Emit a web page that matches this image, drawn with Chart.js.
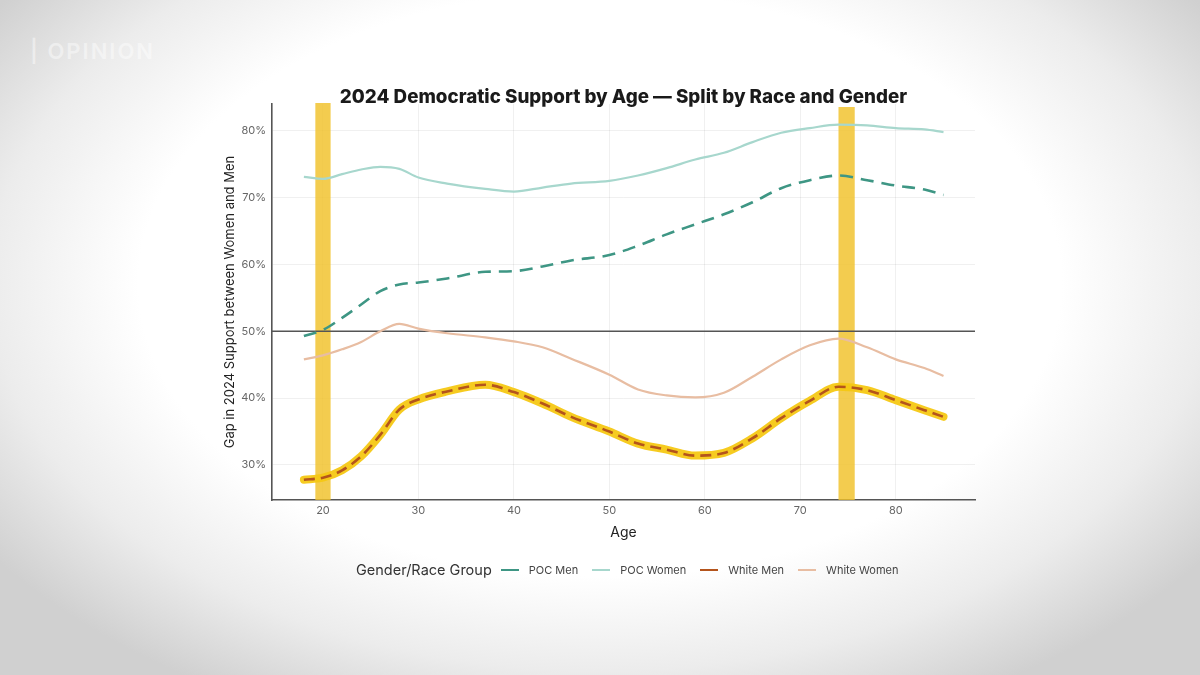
<!DOCTYPE html>
<html>
<head>
<meta charset="utf-8">
<script src="https://cdn.jsdelivr.net/npm/chart.js@4/dist/chart.umd.min.js"></script>
<style>
  html, body { margin: 0; padding: 0; }
  body {
    width: 1200px; height: 675px; overflow: hidden; position: relative;
    font-family: Inter, "Noto Sans", sans-serif;
    background: radial-gradient(ellipse 62% 70% at 50% 42%, #ffffff 62%, #ececec 82%, #d0d0d0 100%);
  }
  #wrap { position: absolute; left: 0; top: 0; width: 1200px; height: 675px; }
  #logo { position: absolute; left: 30px; top: 38px; font-size: 22px; letter-spacing: 2px; color: rgba(255,255,255,0.45); font-weight: 600; }
  #legend { position: absolute; top: 561px; left: 356px; display: flex; align-items: center; white-space: nowrap; }
  #legend .ttl { font-size: 14.5px; color: #333; margin-right: 9px; }
  #legend .item { display: flex; align-items: center; font-size: 11px; color: #444; margin-right: 14px; }
  #legend .sw { width: 18px; height: 0; border-top: 2.5px solid; margin-right: 10px; }
</style>
</head>
<body>
<div id="logo">| OPINION</div>
<div id="wrap"><canvas id="chart" width="1200" height="675"></canvas></div>
<div id="legend"></div>
<script>
const ages = [18, 20, 22, 24, 26, 28, 30, 33, 37, 40, 43, 46, 50, 53, 56, 59, 62, 65, 68, 71, 74, 77, 80, 83, 85];

const pocMen = [49.3, 50.2, 52.0, 54.0, 56.0, 57.0, 57.3, 57.9, 58.9, 59.0, 59.7, 60.6, 61.4, 62.8, 64.5, 66.0, 67.5, 69.3, 71.4, 72.6, 73.3, 72.6, 71.8, 71.2, 70.4];
const pocWomen = [73.1, 72.8, 73.5, 74.2, 74.6, 74.3, 73.0, 72.1, 71.3, 70.9, 71.5, 72.1, 72.5, 73.3, 74.4, 75.7, 76.7, 78.3, 79.7, 80.4, 80.9, 80.8, 80.4, 80.2, 79.8];
const whiteMen = [27.8, 28.1, 29.2, 31.3, 34.5, 38.3, 39.8, 41.0, 42.0, 40.9, 39.2, 37.2, 35.0, 33.2, 32.3, 31.4, 31.8, 34.0, 37.0, 39.6, 41.7, 41.2, 39.7, 38.2, 37.2];
const whiteWomen = [45.8, 46.4, 47.3, 48.4, 50.0, 51.1, 50.4, 49.7, 49.1, 48.5, 47.6, 45.9, 43.5, 41.3, 40.4, 40.1, 40.8, 43.2, 45.8, 47.9, 48.9, 47.6, 45.8, 44.5, 43.3];

// highlighted age bands (yellow bars)
const bandRanges = [[19.2, 20.8], [74.0, 75.7]];
const refLine = 50;

const chartTitle = '2024 Democratic Support by Age \u2014 Split by Race and Gender';
const groupNames = ['POC Men', 'POC Women', 'White Men', 'White Women'];
const groupColors = ['#3e9684', '#a7d7cd', '#b4541c', '#e8bda2'];

const pts = (vals) => ages.map((a, i) => ({ x: a, y: vals[i] }));

// draws yellow bands under the lines and the 50% reference line
const annotPlugin = {
  id: 'annot',
  beforeDatasetsDraw(chart) {
    const { ctx, scales: { x, y }, chartArea } = chart;
    ctx.save();
    ctx.fillStyle = 'rgba(240, 193, 40, 0.82)';
    bandRanges.forEach(([a, b], i) => {
      const x0 = x.getPixelForValue(a);
      const x1 = x.getPixelForValue(b);
      const top = i === 0 ? chartArea.top - 1 : chartArea.top + 3;
      ctx.fillRect(x0, top, x1 - x0, chartArea.bottom - top);
    });
    const py = y.getPixelForValue(refLine);
    ctx.strokeStyle = '#555';
    ctx.lineWidth = 1.6;
    ctx.beginPath();
    ctx.moveTo(chartArea.left, py);
    ctx.lineTo(chartArea.right, py);
    ctx.stroke();
    ctx.restore();
  },
  // title centred over the plot panel, like ggplot
  afterDraw(chart) {
    const { ctx, chartArea } = chart;
    ctx.save();
    ctx.font = '800 18.8px Inter';
    ctx.fillStyle = '#1a1a1a';
    ctx.textAlign = 'center';
    ctx.textBaseline = 'middle';
    ctx.fillText(chartTitle, (chartArea.left + chartArea.right) / 2, chartArea.top - 7);
    ctx.restore();
  },
};

const common = { pointRadius: 0, fill: false, cubicInterpolationMode: 'monotone' };

new Chart(document.getElementById('chart'), {
  type: 'line',
  data: {
    datasets: [
      { ...common, order: 4, label: 'POC Women', data: pts(pocWomen), borderColor: groupColors[1], borderWidth: 2.2 },
      { ...common, order: 3, label: 'White Women', data: pts(whiteWomen), borderColor: groupColors[3], borderWidth: 2.2 },
      { ...common, order: 2, label: 'POC Men', data: pts(pocMen), borderColor: groupColors[0], borderWidth: 2.6, borderDash: [13, 8] },
      { ...common, order: 1, label: 'hl', data: pts(whiteMen), borderColor: 'rgba(246, 200, 20, 0.95)', borderWidth: 8, borderCapStyle: 'round' },
      { ...common, order: 0, label: 'White Men', data: pts(whiteMen), borderColor: groupColors[2], borderWidth: 2.6, borderDash: [11, 6] },
    ],
  },
  options: {
    responsive: false,
    animation: false,
    layout: { padding: { left: 218, right: 225, top: 104, bottom: 130 } },
    plugins: {
      legend: { display: false },
      tooltip: { enabled: false },
      title: { display: false },
    },
    scales: {
      x: {
        type: 'linear',
        min: 14.66,
        max: 88.3,
        afterFit(scale) { scale.height = 45; },
        ticks: { stepSize: 10, includeBounds: false, color: '#666', font: { family: 'Inter', size: 11 }, padding: 4 },
        grid: { color: 'rgba(0,0,0,0.06)', drawTicks: false },
        border: { display: true, color: '#555', width: 1.6 },
        title: { display: true, text: 'Age', color: '#222', font: { family: 'Inter', size: 14 }, padding: { top: 2 } },
      },
      y: {
        min: 24.76,
        max: 84,
        afterFit(scale) { scale.width = 54; },
        ticks: {
          stepSize: 10, includeBounds: false, color: '#666', font: { family: 'Inter', size: 11 }, padding: 6,
          callback: (v) => v + '%',
        },
        grid: { color: 'rgba(0,0,0,0.06)', drawTicks: false },
        border: { display: true, color: '#555', width: 1.6 },
        title: { display: true, text: 'Gap in 2024 Support between Women and Men', color: '#222', font: { family: 'Inter', size: 13 }, padding: { bottom: 4 } },
      },
    },
  },
  plugins: [annotPlugin],
});

// legend row below the chart
const legend = document.getElementById('legend');
legend.innerHTML = '<span class="ttl">Gender/Race Group</span>' +
  groupNames.map((n, i) => `<span class="item"><span class="sw" style="border-color:${groupColors[i]}"></span>${n}</span>`).join('');
</script>
</body>
</html>
